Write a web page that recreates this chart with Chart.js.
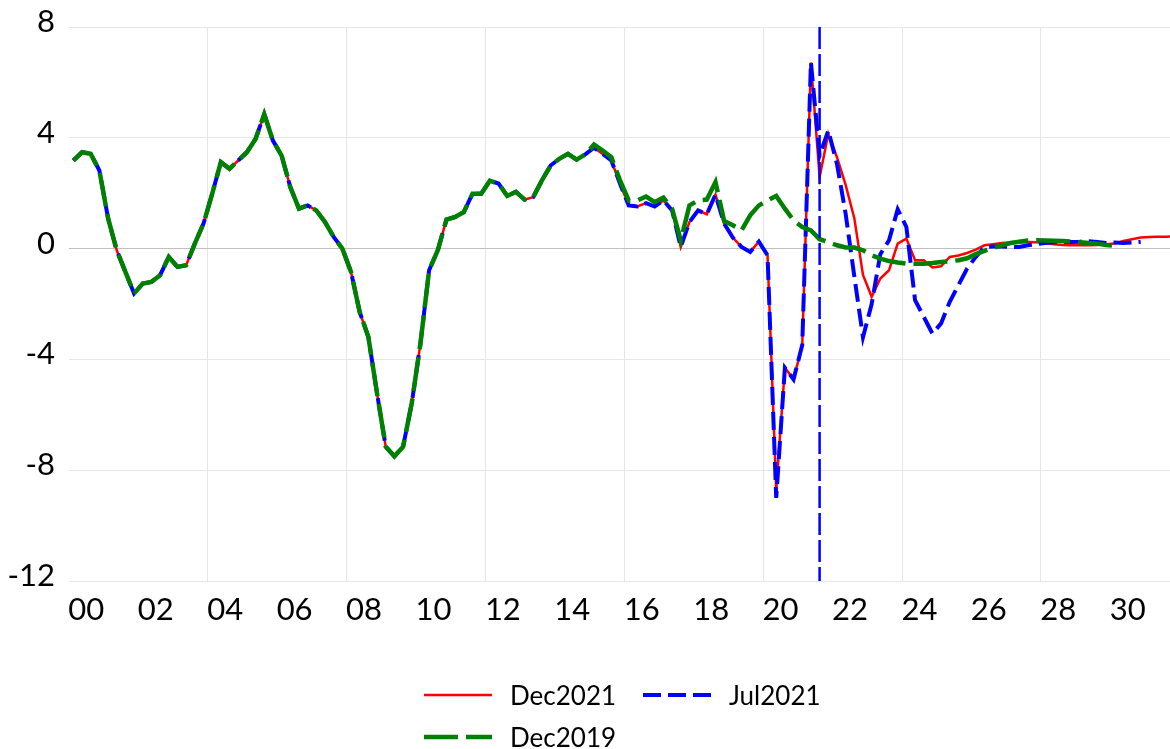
<!DOCTYPE html>
<html lang="en">
  <head>
    <meta charset="UTF-8" />
    <title>Forecast vintages</title>
    <script src="https://cdn.jsdelivr.net/npm/chart.js"></script>
    <style>
      body { margin: 0; background: #fff; font-family: Lato, sans-serif; }
      #wrap { position: relative; width: 1170px; height: 640px; }
      #legend { position: absolute; left: 0; top: 0; width: 1170px; height: 749px; pointer-events: none; }
      .item { position: absolute; display: flex; align-items: center; transform: translateY(-50%); font-size: 26px; color: #000; }
      .item svg { margin-right: 18px; }
    </style>
  </head>
  <body>
    <div id="wrap"><canvas id="chart"></canvas></div>
    <div id="legend"></div>

    <script>
      // quarterly data, first point = 2000Q1
      const startYear = 2000;

      // 2000Q1 - 2014Q4, common to every vintage
      const history = [
        3.18, 3.48, 3.42, 2.82, 1.1, -0.06, -0.84, -1.62, -1.26, -1.2, -0.96, -0.3,
        -0.66, -0.6, 0.18, 0.9, 1.98, 3.12, 2.88, 3.18, 3.48, 3.96, 4.85, 3.9,
        3.36, 2.22, 1.44, 1.56, 1.38, 0.96, 0.42, 0.0, -0.84, -2.29, -3.19, -5.23,
        -7.15, -7.5, -7.15, -5.58, -3.43, -0.78, -0.06, 1.05, 1.14, 1.32, 1.98, 1.98,
        2.45, 2.35, 1.9, 2.05, 1.77, 1.86, 2.46, 3.0, 3.24, 3.42, 3.21, 3.4
      ];

      // 2015Q1 onwards
      const dec2021Tail = [
        3.64, 3.42, 3.18, 2.34, 1.56, 1.52, 1.64, 1.52, 1.74, 1.38, 0.06, 0.96,
        1.38, 1.24, 1.95, 0.9, 0.4, 0.06, -0.12, 0.25, -0.24, -8.7, -4.3, -4.72,
        -3.48, 6.72, 2.58, 4.14, 3.3, 2.3, 1.1, -0.95, -1.74, -1.08, -0.78, 0.18,
        0.36, -0.42, -0.42, -0.68, -0.64, -0.3, -0.25, -0.16, -0.04, 0.12, 0.16, 0.2,
        0.22, 0.23, 0.24, 0.23, 0.2, 0.16, 0.13, 0.12, 0.12, 0.12, 0.13, 0.16,
        0.18, 0.28, 0.34, 0.4, 0.42, 0.43, 0.43, 0.44
      ];
      const jul2021Tail = [
        3.64, 3.42, 3.18, 2.34, 1.56, 1.52, 1.64, 1.52, 1.74, 1.38, 0.06, 0.96,
        1.38, 1.24, 1.95, 0.9, 0.4, 0.06, -0.12, 0.25, -0.24, -9.0, -4.3, -4.72,
        -3.48, 6.72, 3.36, 4.26, 3.06, 1.26, -1.0, -3.2, -2.0, -0.2, 0.3, 1.42,
        0.78, -1.86, -2.46, -3.07, -2.7, -1.92, -1.32, -0.72, -0.3, 0.06, 0.08, 0.08,
        0.06, 0.06, 0.12, 0.16, 0.2, 0.23, 0.24, 0.24, 0.25, 0.27, 0.24, 0.2,
        0.22, 0.2, 0.22, 0.24
      ];
      const dec2019Tail = [
        3.76, 3.54, 3.3, 2.46, 1.74, 1.74, 1.88, 1.68, 1.84, 1.44, 0.3, 1.56,
        1.74, 1.77, 2.4, 1.0, 0.84, 0.66, 1.2, 1.56, 1.74, 1.9, 1.44, 1.02,
        0.78, 0.66, 0.34, 0.24, 0.12, 0.04, 0.04, -0.06, -0.24, -0.36, -0.45, -0.5,
        -0.54, -0.55, -0.55, -0.52, -0.48, -0.46, -0.42, -0.35, -0.2, -0.08, 0.02, 0.12,
        0.2, 0.25, 0.29, 0.3, 0.29, 0.28, 0.27, 0.25, 0.23, 0.2, 0.18, 0.13,
        0.1
      ];

      const tickLabels = ["00", "02", "04", "06", "08", "10", "12", "14", "16", "18", "20", "22", "24", "26", "28", "30"];
      const gridYears = [2004, 2008, 2012, 2016, 2020, 2024, 2028];
      const yTicks = [-12, -8, -4, 0, 4, 8];
      const markerDate = 2021.625; // Jul2021 vintage

      const series = [
        { label: "Dec2021", values: history.concat(dec2021Tail), color: "#FF0000", width: 2.5, dash: [], col: 0, row: 0, order: 2 },
        { label: "Jul2021", values: history.concat(jul2021Tail), color: "#0000FF", width: 4, dash: [18, 7], col: 1, row: 0, order: 1 },
        { label: "Dec2019", values: history.concat(dec2019Tail), color: "#008000", width: 4.5, dash: [34, 8], col: 0, row: 1, order: 0 },
      ];

      // quarter midpoint on a year scale
      const toPoints = (vals) => vals.map((v, i) => ({ x: startYear + (i + 0.5) / 4, y: v }));
      const labelPos = tickLabels.map((t) => startYear + Number(t) + 0.5);

      const markerLine = {
        id: "markerLine",
        afterDatasetsDraw(chart) {
          const { ctx, chartArea, scales } = chart;
          const x = scales.x.getPixelForValue(markerDate);
          ctx.save();
          ctx.strokeStyle = "#0000FF";
          ctx.lineWidth = 2.5;
          ctx.setLineDash([22, 5]);
          ctx.beginPath();
          ctx.moveTo(x, chartArea.top);
          ctx.lineTo(x, chartArea.bottom);
          ctx.stroke();
          ctx.restore();
        },
      };

      Chart.defaults.font.family = "Lato, sans-serif";
      Chart.defaults.color = "#000";

      new Chart(document.getElementById("chart"), {
        type: "line",
        data: {
          datasets: series.map((s) => ({
            label: s.label,
            data: toPoints(s.values),
            borderColor: s.color,
            borderWidth: s.width,
            borderDash: s.dash,
            pointRadius: 0,
            tension: 0,
            fill: false,
            order: s.order,
          })),
        },
        options: {
          responsive: true,
          maintainAspectRatio: false,
          animation: false,
          layout: { padding: { top: 27, right: 0, bottom: 0, left: 0 } },
          plugins: { legend: { display: false }, tooltip: { enabled: false } },
          scales: {
            x: {
              type: "linear",
              min: 2000,
              max: 2031.72,
              border: { display: false },
              afterBuildTicks: (axis) => {
                axis.ticks = labelPos.concat(gridYears).sort((a, b) => a - b).map((v) => ({ value: v }));
              },
              afterFit: (axis) => { axis.height = 59; },
              ticks: {
                autoSkip: false,
                maxRotation: 0,
                padding: 10,
                font: { size: 31 },
                callback: (v) => {
                  const k = labelPos.indexOf(v);
                  return k >= 0 ? tickLabels[k] : "";
                },
              },
              grid: {
                drawTicks: false,
                color: (c) => (c.tick && gridYears.includes(c.tick.value) ? "#e6e6e6" : "rgba(0,0,0,0)"),
              },
            },
            y: {
              min: -12,
              max: 8,
              border: { display: false },
              afterBuildTicks: (axis) => { axis.ticks = yTicks.map((v) => ({ value: v })); },
              afterFit: (axis) => {
                axis.width = 69;
                axis.paddingTop = 0;
                axis.paddingBottom = 0;
              },
              ticks: { padding: 14, labelOffset: -5, font: { size: 31 } },
              grid: {
                drawTicks: false,
                color: (c) => (c.tick && c.tick.value === 0 ? "#bfbfbf" : "#e6e6e6"),
              },
            },
          },
        },
        plugins: [markerLine],
      });

      // legend laid out in a grid like the original
      const legendEl = document.getElementById("legend");
      const colX = [424, 643];
      const rowY = [695, 737];
      series.forEach((s) => {
        const item = document.createElement("div");
        item.className = "item";
        item.style.left = colX[s.col] + "px";
        item.style.top = rowY[s.row] + "px";
        item.innerHTML = `
          <svg width="68" height="8"><line x1="0" y1="4" x2="68" y2="4" stroke="${s.color}"
            stroke-width="${s.width}" stroke-dasharray="${s.dash.join(" ")}" /></svg>
          <span>${s.label}</span>`;
        legendEl.appendChild(item);
      });
    </script>
  </body>
</html>
